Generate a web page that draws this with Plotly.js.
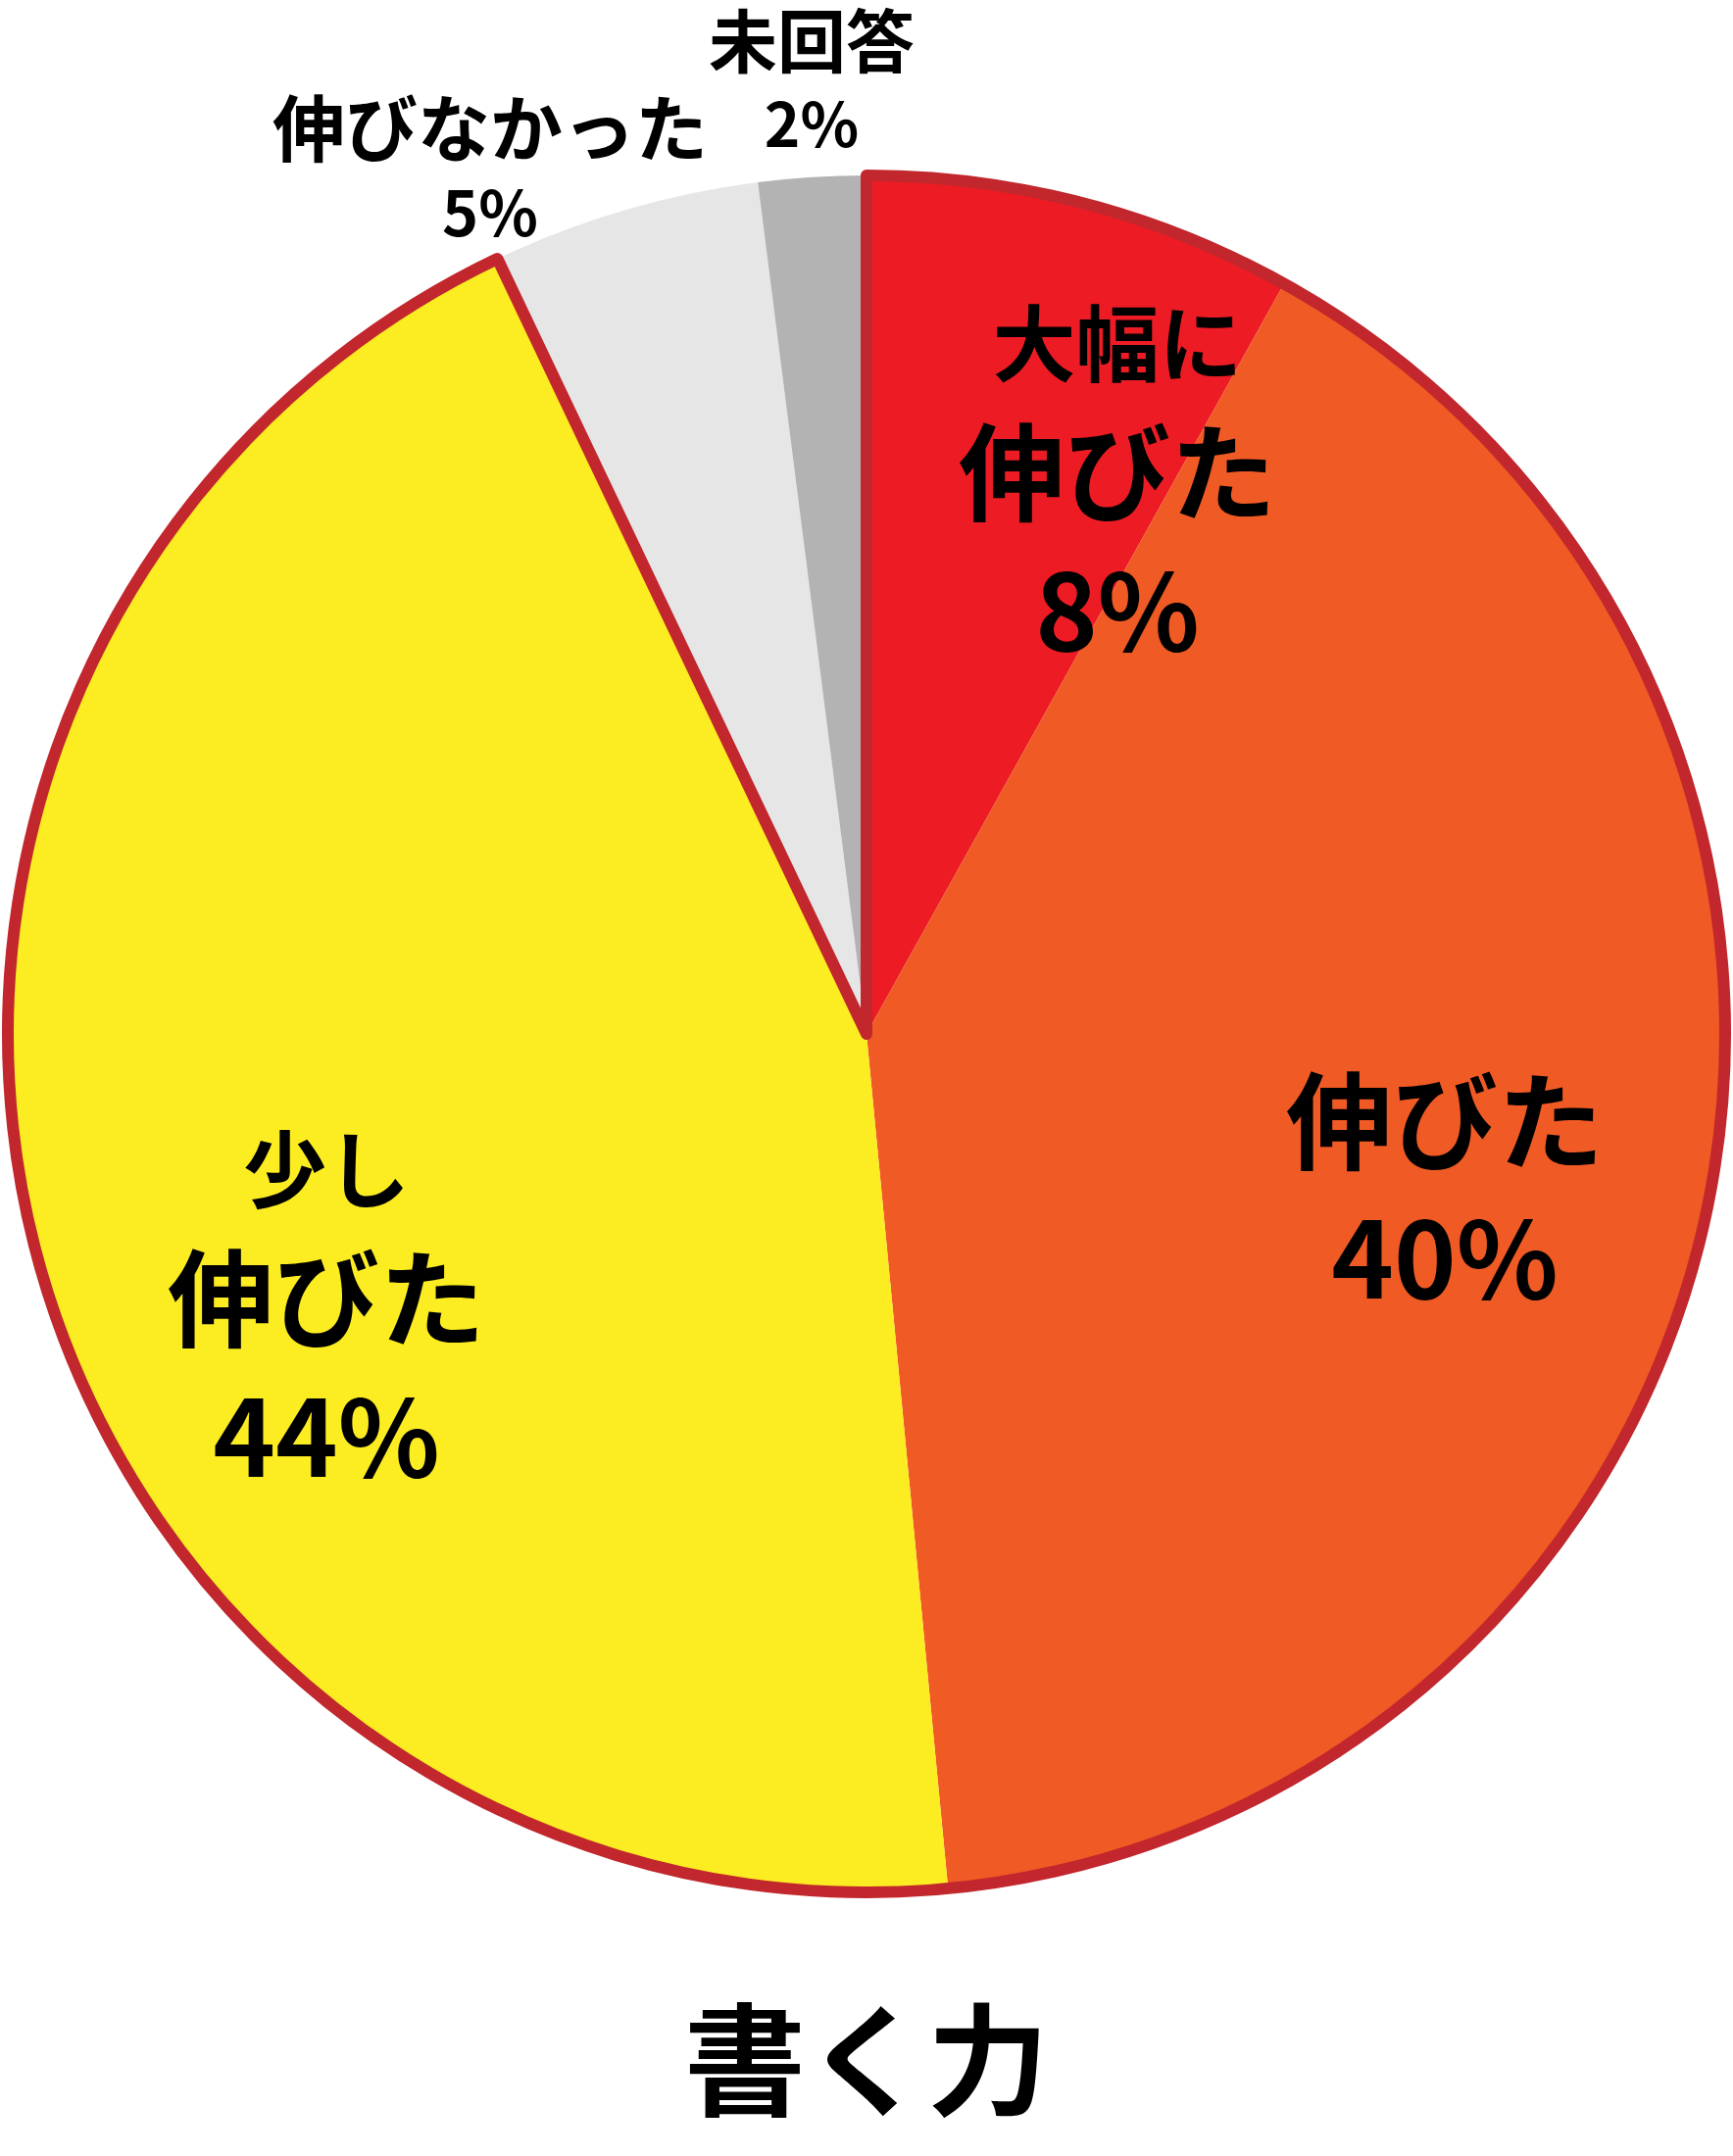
<!DOCTYPE html>
<html>
<head>
<meta charset="utf-8">
<script src="https://cdn.plot.ly/plotly-3.0.1.min.js"></script>
<style>
  body { margin: 0; background: #fff; }
  #chart { width: 1768px; height: 2200px; }
</style>
</head>
<body>
<div id="chart"></div>
<script>
// Slices, clockwise from 12 o'clock
const labels = ['大幅に伸びた', '伸びた', '少し伸びた', '伸びなかった', '未回答'];
const labelLines = [['大幅に', '伸びた'], ['伸びた'], ['少し', '伸びた'], ['伸びなかった'], ['未回答']];
const values = [8, 40, 44, 5, 2];
const pctText = ['8%', '40%', '44%', '5%', '2%'];
const colors = ['#ED1C24', '#F05A24', '#FCEC22', '#E6E6E6', '#B3B3B3'];
const chartTitle = '書く力';

// the three "grew" slices share one dark red outline
const grewCount = 3;

const font = 'Noto Sans CJK JP, sans-serif';

// plot area in pixels (pie fills it)
const W = 1768, H = 2200;
const mL = 8, mR = 8, mT = 178, mB = 268;
const plotW = W - mL - mR, plotH = H - mT - mB;

// where each slice label block is centred, in page pixels (hand placed like the original)
const labelAt = [[1140, 490], [1474, 1208], [333, 1332], [500, 166], [828, 78]];
const labelSize = [108, 108, 108, 63, 62];
const headSize = [85, 0, 85, 0, 0];
const nameSize = [108, 108, 108, 74, 70];

function toPaper(px, py) {
    return { x: (px - mL) / plotW, y: (H - mB - py) / plotH };
}

const annotations = labelLines.map((lines, i) => {
    let txt = '';
    if (lines.length > 1) {
        txt += '<span style="font-size:' + headSize[i] + 'px">' + lines[0] + '</span><br>';
    }
    txt += '<span style="font-size:' + nameSize[i] + 'px">' + lines[lines.length - 1] + '</span>';
    txt += '<br>' + pctText[i];
    const p = toPaper(labelAt[i][0], labelAt[i][1]);
    return {
        xref: 'paper', yref: 'paper',
        x: p.x, y: p.y,
        xanchor: 'center', yanchor: 'middle',
        text: txt,
        showarrow: false,
        align: 'center',
        font: { family: font, size: labelSize[i], color: '#000', weight: 700 }
    };
});

const grewTotal = values.slice(0, grewCount).reduce((a, b) => a + b, 0);
const restTotal = values.slice(grewCount).reduce((a, b) => a + b, 0);

const mainPie = {
    type: 'pie',
    labels: labels,
    values: values,
    sort: false,
    direction: 'clockwise',
    rotation: 0,
    marker: { colors: colors, line: { width: 0 } },
    textinfo: 'none',
    hoverinfo: 'label+percent',
    showlegend: false
};

const outlinePie = {
    type: 'pie',
    labels: ['grew', 'rest'],
    values: [grewTotal, restTotal],
    sort: false,
    direction: 'clockwise',
    rotation: 0,
    textinfo: 'none',
    hoverinfo: 'skip',
    marker: {
        colors: ['rgba(0,0,0,0)', 'rgba(0,0,0,0)'],
        line: { color: ['#C1272D', 'rgba(0,0,0,0)'], width: [12, 0] }
    },
    showlegend: false
};

const layout = {
    width: W,
    height: H,
    margin: { l: mL, r: mR, t: mT, b: mB },
    paper_bgcolor: '#fff',
    showlegend: false,
    annotations: annotations,
    title: {
        text: chartTitle,
        font: { family: font, size: 124, color: '#000', weight: 700 },
        x: 0.5,
        xanchor: 'center',
        y: 0.043,
        yref: 'container',
        yanchor: 'middle'
    }
};

Plotly.newPlot('chart', [mainPie, outlinePie], layout, { staticPlot: true });
</script>
</body>
</html>
